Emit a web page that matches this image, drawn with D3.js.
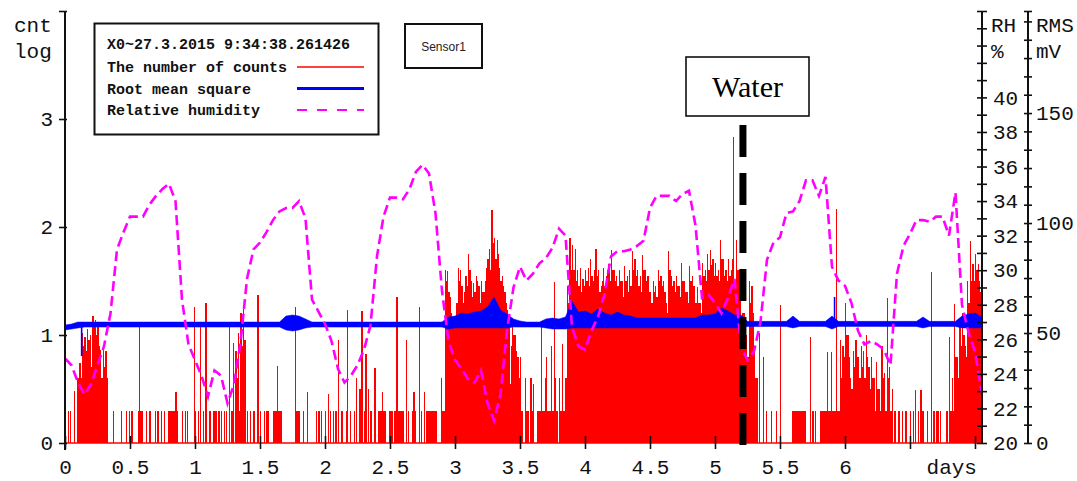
<!DOCTYPE html>
<html><head><meta charset="utf-8">
<script src="https://cdn.jsdelivr.net/npm/d3@7/dist/d3.min.js"></script>
<style>
body{margin:0;background:#fff;}
svg{display:block;}
</style></head><body>
<svg id="chart" width="1077" height="481"></svg>
<script>
// ---------- data ----------
const countStep = 0.01; // days per count sample
// log10(counts) per sample, day 0 .. 7.05
const counts = [
  // day 0 - 0.5
  0,0,0.3,0,0.3,0,0,0.48,0,0.6, 0.6,0.74,0.6,1.02,0.9,0.98,0.85,1.06,0.95,1.0,
  0.7,1.18,1.1,1.14,1.0,1.07,0.9,0.86,0.6,0.86, 0.7,0.85,0.6,0,0,0,0,0.3,0,0,
  0,0,0,0.3,0,0,0,0.3,0,0.3,
  // 0.5 - 1.0
  0,0.3,0,0,0,0,0.3,1.11,0.3,0.3, 0,0,0.3,0,0,0.3,0,0,0,0.3,
  0,0.3,0,0,0.3,0,0.3,0,0,0.3, 0.3,0.3,0.3,0.3,0.3,0.47,0.3,0,0,0,
  0.3,0,0.3,0,0.3,0,0,0,0,1.26,
  // 1.0 - 1.5
  0.3,0,0.3,0,1.11,0,0.3,0,1.3,0, 0,0.3,0,0,0.3,0.3,0.3,0,0.3,0,
  0.3,0,0.3,0,0.3,0,1.11,0,0.3,0.93, 0,0.85,0.6,1.02,0.3,1.2,0.9,1.24,0.95,0,
  0.3,0,0.3,0,0,0.3,0,0,1.37,0,
  // 1.5 - 2.0
  0.3,0,0,0.3,0,0.3,0.3,0,0,0, 0.3,0.3,0.3,0.71,0.3,0.3,0.3,0,0,0,
  0,0,0,0,0,0,0,1.26,0.3,0.3, 0.3,0,0,0.3,0,0,0.47,0,0,0,
  0,0,0,0.3,0,0.3,0,0.3,0,0,
  // 2.0 - 2.5
  0.3,0,0.45,0,0.3,0,0.3,0,0.3,0, 0.95,0,0.3,0.3,0,0,0.3,1.23,0,0.3,
  0,0,0.3,0,0.6,0,0.5,0.5,1.22,0, 0.3,0.82,0,0.5,0,0.3,0,0,0.69,0,
  0,0.3,0.3,0.3,0.47,0.3,0.3,0,0,0.3,
  // 2.5 - 3.0
  0.3,0.3,0,0.3,0.3,1.35,0.3,0.3,0.3,0.3, 0.3,0,0.95,0,0.3,0,0,0.3,0.47,0.3,
  0,0,1.26,0,0.3,0,0.47,0,0.3,0.3, 0.3,0.3,0.3,0.3,0.3,0.3,0,0,0,0.6,
  0.3,0.3,1.6,1.5,1.59,1.4,1.35,1.2,1.16,1.1,
  // 3.0 - 3.5
  1.16,1.3,1.62,1.5,1.6,1.45,1.3,1.4,1.55,1.45, 1.75,1.6,1.5,1.35,1.48,1.4,1.55,1.5,1.45,1.3,
  1.5,1.4,1.4,1.5,1.62,1.7,1.8,1.6,2.16,1.85, 1.9,1.7,1.88,1.75,1.62,1.5,1.55,1.45,1.4,1.3,
  1.23,1.1,0.55,0.9,1.16,1.0,1.0,0.85,0.8,0.6,
  // 3.5 - 4.0
  0.8,0.3,0,0,0.6,0.3,0.3,0,0.6,0.3, 0.55,0,0,0.3,0.3,0.3,1.09,0.3,0.3,0.6,
  0.8,0.3,0.3,0.3,0.9,0.3,1.49,0.6,0.3,0, 0.6,0.3,0.92,0.3,0.3,0.6,1.45,1.3,1.9,1.6,
  1.83,1.6,1.8,1.5,1.6,1.45,1.62,1.4,1.52,1.45,
  // 4.0 - 4.5
  1.6,1.5,1.62,1.45,1.7,1.55,1.5,1.6,1.8,1.55, 1.6,1.4,1.45,1.5,1.62,1.45,1.55,1.6,1.66,1.5,
  1.79,1.6,1.6,1.5,1.55,1.45,1.6,1.5,1.5,1.35, 1.64,1.5,1.55,1.4,1.6,1.45,1.78,1.6,1.7,1.55,
  1.6,1.45,1.55,1.4,1.74,1.6,1.6,1.5,1.55,1.4,
  // 4.5 - 5.0
  1.4,1.3,1.5,1.4,1.45,1.35,1.6,1.5,1.55,1.45, 1.5,1.4,1.3,1.2,1.78,1.6,1.55,1.45,1.5,1.4,
  1.55,1.45,1.45,1.35,1.67,1.5,1.5,1.4,1.4,1.3, 1.64,1.5,1.55,1.45,1.45,1.3,1.44,1.3,1.3,1.2,
  1.67,1.55,1.6,1.5,1.75,1.6,1.79,1.65,1.7,1.55,
  // 5.0 - 5.5
  1.67,1.55,1.6,1.5,1.88,1.7,1.7,1.55,1.6,1.5, 1.7,1.55,1.6,1.7,2.83,1.5,1.88,1.6,1.6,1.4,
  1.1,1.2,1.2,1.0,1.0,0.8,1.5,1.3,1.45,1.2, 0.9,0.6,0.6,0,1.02,0,0,0.8,0,0.3,
  0,0,0,0.3,0,0,0,0.3,0,0,
  // 5.5 - 6.0
  1.28,0,0,0,0,0,0,0,0,0.3, 0.3,0.3,0.3,0.3,0.3,0.3,0.3,0.3,0.3,0.3,
  0,0,0,0.98,0,0.3,0,0.3,0,0, 0,0.3,0.3,0.3,0.3,0.3,0.84,0.3,0.3,0.84,
  0.3,0.3,0.3,2.17,0.3,0.3,0.95,0.6,0.9,0.8,
  // 6.0 - 6.5
  1.3,1.0,1.0,0.8,0.6,0.5,0.85,0.7,0.95,0.8, 0.8,0.6,0.9,0.7,0.85,0.6,1.0,0.8,0.7,0.5,
  0.8,0.6,0.6,0.3,0.75,0.5,0.5,0.3,0.9,0.6, 0.65,0.3,1.34,0.6,0.7,0.3,0.5,0,0.3,0,
  0,0.3,0,0,0.3,0,0.3,0.3,0,0,
  // 6.5 - 7.0
  0.3,0,0.3,0,0.49,0,0.3,0,0.49,0.3, 0.3,0,0,0.3,0,0,1.58,0,0.3,0,
  0.3,0.3,0,0.3,0,0,0,0,0.3,0, 0.98,0.3,0.6,0.3,1.29,0.8,0.8,0.6,1.1,0.9,
  1.2,1.0,0.9,0.8,1.5,1.3,1.87,1.5,1.66,1.5,
  // 7.0 - 7.05
  1.75,1.6,1.66,1.5,1.4,1.3
];

const seriesStep = 0.05; // days per RH / RMS sample
// relative humidity, %
const humidity = [
  24.9,24.5,23.5,22.8,23.4,24.5,25.6,27.5,31.2,32.2,
  33.1,33.1,33.1,33.8,34.3,34.7,35.0,34.0,28.3,25.7,
  24.8,23.9,22.7,24.2,23.9,22.3,23.4,25.8,29.5,31.2,
  31.6,32.2,32.9,33.4,33.6,33.6,34.0,33.0,28.3,27.6,
  26.9,25.9,24.3,23.5,23.9,24.5,25.4,26.8,30.8,33.1,
  34.2,34.2,34.1,34.7,35.7,36.1,35.6,33.3,28.8,25.9,
  24.8,24.3,23.7,23.5,24.2,22.3,21.3,22.8,26.5,29.0,
  30.2,29.4,29.8,30.4,30.7,31.3,32.4,32.0,26.7,25.6,
  25.4,26.5,27.3,28.6,30.8,31.1,31.1,31.2,31.4,31.7,
  33.6,34.3,34.3,34.3,34.0,34.4,34.6,32.6,28.4,28.6,
  28.1,27.5,28.4,29.5,25.6,24.8,25.3,27.0,30.6,31.6,
  31.9,33.3,33.4,34.0,35.2,35.2,34.3,35.4,30.2,29.4,
  29.1,28.1,26.5,25.7,25.9,25.7,25.4,24.5,29.8,31.4,
  32.1,32.9,32.9,32.8,33.1,33.1,32.0,34.5,28.0,26.4,
  25.3,23.0
];
// root mean square, mV (lower / upper edge of the trace)
const rmsLow = [
  51.4,51.8,52.3,52.7,52.7,52.7,52.7,52.7,52.7,52.7,
  52.7,52.7,52.7,52.7,52.7,52.7,52.7,52.7,52.7,52.7,
  52.7,52.7,52.7,52.7,52.7,52.7,52.7,52.7,52.7,52.7,
  52.7,52.7,52.7,52.7,51.4,50.9,51.4,52.3,52.7,52.7,
  52.7,52.7,52.7,52.7,52.7,52.7,52.7,52.7,52.7,52.7,
  52.7,52.7,52.7,52.7,52.7,52.7,52.7,52.7,52.7,51.8,
  52.3,52.3,52.3,52.3,52.3,52.3,52.3,52.3,52.3,52.7,
  52.7,52.7,52.7,52.7,52.3,51.8,51.8,51.8,52.3,52.3,
  52.3,52.3,52.3,52.3,52.3,52.3,52.3,52.3,52.3,52.3,
  52.3,52.3,52.3,52.3,52.3,52.3,52.3,52.3,52.3,52.3,
  52.3,52.3,52.3,52.3,52.3,53.0,53.0,53.0,53.0,53.0,
  53.0,53.0,52.3,53.0,53.0,53.0,53.0,53.0,51.8,53.0,
  53.0,53.0,53.0,53.0,53.0,53.0,53.0,53.0,53.0,53.0,
  53.0,53.0,52.3,53.0,53.0,53.0,53.0,53.0,52.3,52.3,
  52.3,52.3
];
const rmsHigh = [
  53.6,54.1,55.0,55.0,55.0,55.0,55.0,55.0,55.0,55.0,
  55.0,55.0,55.0,55.0,55.0,55.0,55.0,55.0,55.0,55.0,
  55.0,55.0,55.0,55.0,55.0,55.0,55.0,55.0,55.0,55.0,
  55.0,55.0,55.0,55.0,57.7,58.2,57.7,56.4,55.0,55.0,
  55.0,55.0,55.0,55.0,55.0,55.0,55.0,55.0,55.0,55.0,
  55.0,55.0,55.0,55.0,55.0,55.0,55.0,55.0,55.0,57.3,
  57.7,59.1,58.6,59.5,60.0,61.8,66.4,60.5,58.6,56.4,
  55.5,55.0,55.0,55.0,56.4,56.8,56.4,57.3,64.5,59.5,
  60.0,58.6,61.0,59.1,58.2,59.5,58.2,57.7,56.8,56.8,
  56.8,56.8,56.8,56.8,56.8,56.8,56.8,56.8,58.2,58.2,
  58.6,61.4,60.0,58.2,58.2,55.3,55.3,55.3,55.3,55.3,
  55.3,55.3,57.7,55.3,55.3,55.3,55.3,55.3,57.7,55.3,
  55.3,55.3,55.3,55.3,55.3,55.3,55.3,55.3,55.3,55.3,
  55.3,55.3,57.3,55.3,55.3,55.3,55.3,55.3,57.7,58.6,
  59.1,57.3
];
const rmsSpikeDays = [0.128, 5.92];
const rmsSpikeValues = [39.5, 66.4];

const xTickValues = [0,0.5,1,1.5,2,2.5,3,3.5,4,4.5,5,5.5,6,6.5,7];
const xTickLabels = ["0","0.5","1","1.5","2","2.5","3","3.5","4","4.5","5","5.5","6","",""];
const logTicks = [0,1,2,3,4];
const logLabels = ["0","1","2","3",""];
const rhLabelValues = [20,22,24,26,28,30,32,34,36,38,40];
const rmsLabelValues = [0,50,100,150];
const legendTitle = "X0~27.3.2015 9:34:38.261426";
const legendNames = ["The number of counts","Root mean square","Relative humidity"];
const waterDay = 5.215;

// ---------- scales ----------
const x = d3.scaleLinear().domain([0, 7.054]).range([65, 982]);
const yLog = d3.scaleLinear().domain([0, 4]).range([443, 11]);
const yRH = d3.scaleLinear().domain([20, 45]).range([443, 11]);
const yRMS = d3.scaleLinear().domain([0, 196.4]).range([443, 11]);

const svg = d3.select("#chart");
const mono = '"Courier New","Liberation Mono",monospace';
const ink = "#111";

// ---------- counts (bars) ----------
svg.append("g").selectAll("rect")
  .data(counts.map((v,i)=>({v,i})).filter(d=>d.v>0))
  .join("rect")
  .attr("x", d=>x(d.i*countStep))
  .attr("width", d=>x((d.i+1)*countStep)-x(d.i*countStep))
  .attr("y", d=>yLog(d.v))
  .attr("height", d=>yLog(0)-yLog(d.v))
  .attr("fill","#ff0000")
  .attr("shape-rendering","crispEdges");
svg.append("line").attr("x1",x(0)).attr("x2",x(7.054))
  .attr("y1",yLog(0)).attr("y2",yLog(0))
  .attr("stroke","#ff0000").attr("stroke-width",1.5);

// ---------- RMS ----------
const rmsArea = d3.area()
  .x((d,i)=>x(i*seriesStep))
  .y0((d,i)=>yRMS(rmsLow[i]))
  .y1((d,i)=>yRMS(rmsHigh[i]));
svg.append("path").datum(rmsLow).attr("d", rmsArea)
  .attr("fill","#0000ff").attr("stroke","#0000ff").attr("stroke-width",0.5);
svg.append("g").selectAll("line").data(rmsSpikeDays).join("line")
  .attr("x1",d=>x(d)).attr("x2",d=>x(d))
  .attr("y1",yRMS(54)).attr("y2",(d,i)=>yRMS(rmsSpikeValues[i]))
  .attr("stroke","#0000ff").attr("stroke-width",1.6);

// ---------- humidity ----------
svg.append("path").datum(humidity)
  .attr("d", d3.line().x((d,i)=>x(i*seriesStep)).y(d=>yRH(d)))
  .attr("fill","none").attr("stroke","#ff00ff").attr("stroke-width",2.6)
  .attr("stroke-dasharray","10,5");

// ---------- axes ----------
function styleAxis(g){
  g.attr("font-family", mono).attr("font-size", 21);
  g.selectAll(".tick text").attr("fill", ink);
  g.selectAll(".tick line").attr("stroke", ink).attr("stroke-width", 1.6);
}
// bottom
const gx = svg.append("g").attr("transform",`translate(0,${yLog(0)})`)
  .call(d3.axisBottom(x).tickValues(xTickValues).tickFormat((d,i)=>xTickLabels[i]).tickSize(6));
gx.select(".domain").remove();
styleAxis(gx);
gx.selectAll(".tick line").attr("y1",-7).attr("y2",6);
gx.selectAll(".tick text").attr("y",31).attr("dy",null);
svg.append("text").attr("x", x(7)+2).attr("y", 474).attr("text-anchor","end")
  .attr("font-family",mono).attr("font-size",21).attr("fill",ink).text("days");

// left
const gl = svg.append("g").attr("transform",`translate(${x(0)},0)`)
  .call(d3.axisLeft(yLog).tickValues(logTicks).tickFormat((d,i)=>logLabels[i]).tickSize(6).tickPadding(6));
gl.select(".domain").remove();
styleAxis(gl);
gl.selectAll(".tick line").attr("x1",2).attr("x2",-6);
svg.append("line").attr("x1",x(0)).attr("x2",x(0)).attr("y1",11).attr("y2",450)
  .attr("stroke",ink).attr("stroke-width",2);

// RH
const rhAxisX = x(7.054);
const gr = svg.append("g").attr("transform",`translate(${rhAxisX},0)`)
  .call(d3.axisRight(yRH).tickValues(d3.range(20,46,1)).tickFormat(d=>rhLabelValues.includes(d)?d:"").tickSize(5).tickPadding(6));
gr.select(".domain").remove();
styleAxis(gr);
gr.selectAll(".tick line").attr("x1",-5).attr("x2",5);
svg.append("line").attr("x1",rhAxisX).attr("x2",rhAxisX).attr("y1",11).attr("y2",443)
  .attr("stroke",ink).attr("stroke-width",2);

// RMS
const rmsAxisX = 1028;
const gm = svg.append("g").attr("transform",`translate(${rmsAxisX},0)`)
  .call(d3.axisRight(yRMS).tickValues(d3.range(0,196,50/6).concat([196.4])).tickFormat(()=>"").tickSize(4));
gm.select(".domain").remove();
styleAxis(gm);
gm.selectAll(".tick line").attr("x1",-4).attr("x2",4);
svg.append("g").attr("font-family",mono).attr("font-size",21).attr("fill",ink)
  .selectAll("text").data(rmsLabelValues).join("text")
  .attr("x", rmsAxisX+8).attr("y", d=>yRMS(d)).attr("dy","0.35em").text(d=>d);
svg.append("line").attr("x1",rmsAxisX).attr("x2",rmsAxisX).attr("y1",11).attr("y2",443)
  .attr("stroke",ink).attr("stroke-width",2);

// unit captions
const caps = [["cnt",14,32],["log",14,58],["RH",991,32],["%",991,58],["RMS",1036,32],["mV",1036,58]];
svg.append("g").attr("font-family",mono).attr("font-size",21).attr("fill",ink)
  .selectAll("text").data(caps).join("text")
  .attr("x",d=>d[1]).attr("y",d=>d[2]).text(d=>d[0]);

// ---------- legend ----------
const lg = svg.append("g");
lg.append("rect").attr("x",94.5).attr("y",23.5).attr("width",284).attr("height",111)
  .attr("fill","#fff").attr("stroke",ink).attr("stroke-width",2);
lg.append("text").attr("x",107).attr("y",49).attr("font-family",mono).attr("font-size",15)
  .attr("font-weight","bold").attr("fill",ink).text(legendTitle);
const legColors = ["#ff0000","#0000ff","#ff00ff"];
const legWidths = [1.5,3,1.8];
const legDash = [null,null,"10,10"];
legendNames.forEach((n,i)=>{
  const yy = 72 + i*21.5;
  lg.append("text").attr("x",107).attr("y",yy).attr("font-family",mono).attr("font-size",15)
    .attr("font-weight","bold").attr("fill",ink).text(n);
  lg.append("line").attr("x1",297).attr("x2",364).attr("y1",yy-5).attr("y2",yy-5)
    .attr("stroke",legColors[i]).attr("stroke-width",legWidths[i])
    .attr("stroke-dasharray",legDash[i]);
});

// sensor box
svg.append("rect").attr("x",405).attr("y",24).attr("width",77).attr("height",44)
  .attr("fill","#fff").attr("stroke",ink).attr("stroke-width",2);
svg.append("text").attr("x",443.5).attr("y",51).attr("text-anchor","middle")
  .attr("font-family","Liberation Sans, Arial, sans-serif").attr("font-size",12).attr("fill","#222").text("Sensor1");

// water marker
svg.append("line").attr("x1",x(waterDay)).attr("x2",x(waterDay)).attr("y1",125).attr("y2",445)
  .attr("stroke","#000").attr("stroke-width",7).attr("stroke-dasharray","32,16");
svg.append("rect").attr("x",686).attr("y",57).attr("width",123).attr("height",59)
  .attr("fill","#fff").attr("stroke","#000").attr("stroke-width",1.5);
svg.append("text").attr("x",747.5).attr("y",97).attr("text-anchor","middle")
  .attr("font-family","'Times New Roman','Liberation Serif',serif").attr("font-size",30).attr("fill","#000").text("Water");
</script>
</body></html>
